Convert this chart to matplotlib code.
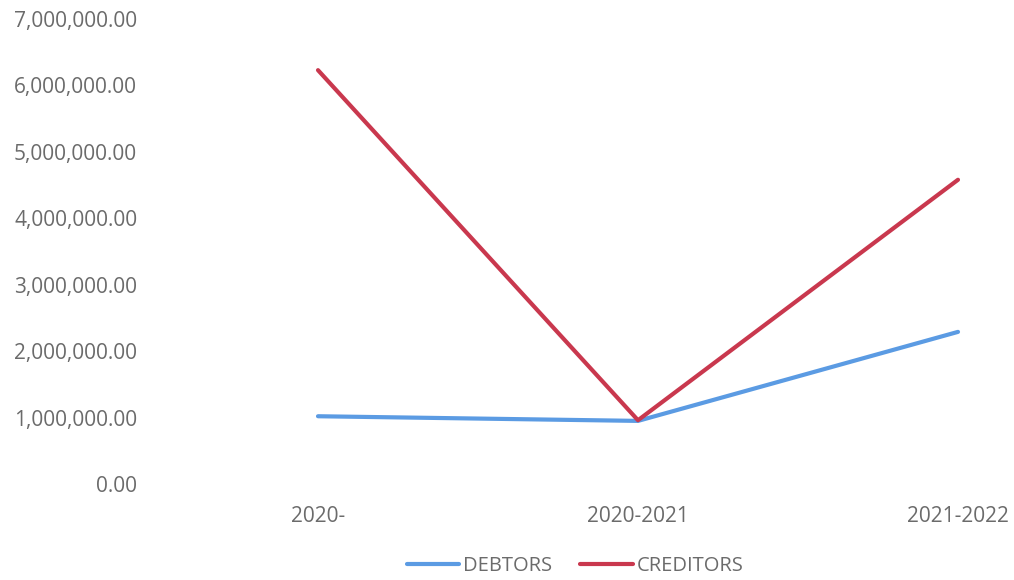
import matplotlib.pyplot as plt
from matplotlib.ticker import FuncFormatter

periods = ["2020-", "2020-2021", "2021-2022"]
debtors = [1020000, 950000, 2290000]
creditors = [6230000, 960000, 4580000]

plt.rcParams['font.family'] = ['Open Sans', 'DejaVu Sans']

fig = plt.figure(figsize=(10.14, 5.8), dpi=100)
# plot area runs past the right edge, as in the cropped original
ax = fig.add_axes([158 / 1014, (580 - 484) / 580, 960 / 1014, (484 - 19) / 580])

x = range(len(periods))
ax.plot(x, debtors, color='#5B9BE3', lw=3.0, label='DEBTORS', solid_capstyle='round')
ax.plot(x, creditors, color='#C9384E', lw=3.0, label='CREDITORS', solid_capstyle='round')

ax.set_xlim(-0.5, 2.5)
ax.set_ylim(0, 7000000)
ax.set_yticks(range(0, 7000001, 1000000))
ax.yaxis.set_major_formatter(FuncFormatter(lambda v, p: f"{v:,.2f}"))
ax.set_xticks(list(x))
ax.set_xticklabels(periods)

for s in ax.spines.values():
    s.set_visible(False)
ax.tick_params(axis='both', length=0, labelsize=15, labelcolor='#6b6b6b')
ax.tick_params(axis='y', pad=15)
ax.tick_params(axis='x', pad=16)

fig.legend(loc='center', bbox_to_anchor=(575 / 1014, 1 - 566 / 580), ncol=2,
           frameon=False, fontsize=14.5, labelcolor='#6b6b6b',
           handlelength=2.6, handletextpad=0.2, columnspacing=1.4)

fig.savefig('out.png', dpi=100)
